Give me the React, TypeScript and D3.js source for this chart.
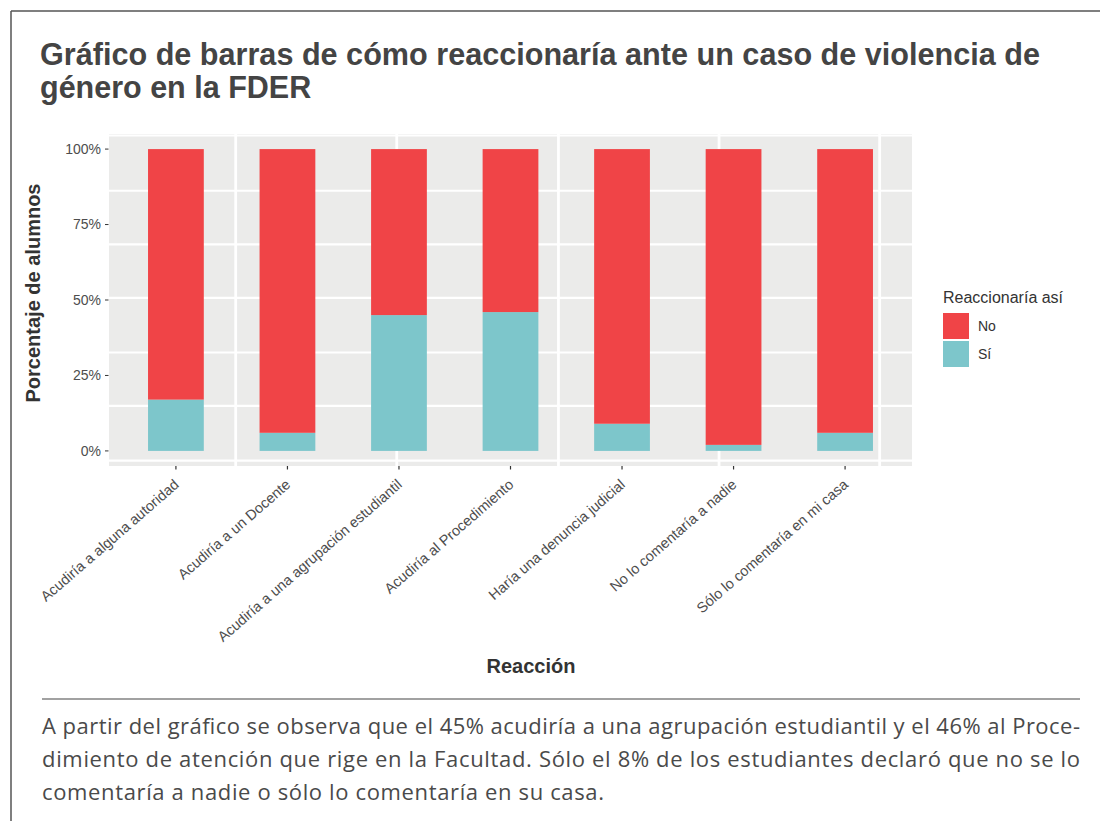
import React from "react";
import * as d3 from "d3";

const categories = [
  "Acudiría a alguna autoridad",
  "Acudiría a un Docente",
  "Acudiría a una agrupación estudiantil",
  "Acudiría al Procedimiento",
  "Haría una denuncia judicial",
  "No lo comentaría a nadie",
  "Sólo lo comentaría en mi casa",
];
const siValues = [0.17, 0.06, 0.45, 0.46, 0.09, 0.02, 0.06];
const noValues = [0.83, 0.94, 0.55, 0.54, 0.91, 0.98, 0.94];
const seriesKeys = ["Sí", "No"];
const legendKeys = ["No", "Sí"];
const yTicks = [0, 0.25, 0.5, 0.75, 1];
// background seams of the panel (in data units)
const ySeams = [1.045, 0.862, 0.684, 0.507, 0.326, 0.149, -0.032];
const xSeamUnits = [0.536, 1.98, 3.43, 4.87, 6.31];

const titleLines = [
  "Gráfico de barras de cómo reaccionaría ante un caso de violencia de",
  "género en la FDER",
];
const noteLines = [
  "A partir del gráfico se observa que el 45% acudiría a una agrupación estudiantil y el 46% al Proce-",
  "dimiento de atención que rige en la Facultad. Sólo el 8% de los estudiantes declaró que no se lo",
  "comentaría a nadie o sólo lo comentaría en su casa.",
];
const noteWidths = [1038, 1038, 562];

const COLORS: Record<string, string> = { No: "#F04447", "Sí": "#7DC6CB" };
const SANS = "'Liberation Sans', Arial, Helvetica, sans-serif";

export default function App() {
  const W = 1100;
  const H = 821;
  const pL = 109, pR = 912, pT = 134, pB = 466;

  const x = d3
    .scaleBand<string>()
    .domain(categories)
    .range([pL, pR])
    .paddingInner(0.5)
    .paddingOuter(0.35);
  const xUnit = d3.scaleLinear().domain([-0.6, 6.6]).range([pL, pR]);
  const y = d3.scaleLinear().domain([-0.05, 1.05]).range([pB, pT]);

  const rows = categories.map((c, i) => ({ cat: c, "Sí": siValues[i], No: noValues[i] }));
  const stacked = d3.stack<any>().keys(seriesKeys)(rows);
  const pct = d3.format(".0%");

  return (
    <svg
      width={W}
      height={H}
      style={{ position: "absolute", left: 0, top: 0, background: "#fff" }}
      fontFamily={SANS}
    >
      {/* frame */}
      <line x1={11} y1={11} x2={W} y2={11} stroke="#555" strokeWidth={1.5} />
      <line x1={11} y1={11} x2={11} y2={H} stroke="#555" strokeWidth={1.5} />

      {/* title */}
      <text x={40} y={65} fontSize={30.5} fontWeight="bold" fill="#444" textLength={1000} lengthAdjust="spacingAndGlyphs">
        {titleLines[0]}
      </text>
      <text x={40} y={98} fontSize={30.5} fontWeight="bold" fill="#444">
        {titleLines[1]}
      </text>

      {/* panel */}
      <rect x={pL} y={pT} width={pR - pL} height={pB - pT} fill="#EBEBEA" />
      {ySeams.map((v, i) => (
        <line key={"hs" + i} x1={pL} x2={pR} y1={y(v)} y2={y(v)} stroke="#fff" strokeWidth={2.2} />
      ))}
      {xSeamUnits.map((u, i) => (
        <line key={"vs" + i} x1={xUnit(u)} x2={xUnit(u)} y1={pT} y2={pB} stroke="#fff" strokeWidth={2.8} />
      ))}

      {/* bars */}
      {stacked.map((s) => (
        <g key={s.key} fill={COLORS[s.key]}>
          {s.map((d, i) => (
            <rect
              key={i}
              x={x(categories[i])}
              width={x.bandwidth()}
              y={y(d[1])}
              height={y(d[0]) - y(d[1])}
            />
          ))}
        </g>
      ))}

      {/* y axis */}
      {yTicks.map((t) => (
        <g key={"yt" + t}>
          <line x1={105} x2={108.5} y1={y(t)} y2={y(t)} stroke="#333" strokeWidth={1} />
          <text x={101} y={y(t)} dy="0.35em" textAnchor="end" fontSize={14} fill="#4D4D4D">
            {pct(t)}
          </text>
        </g>
      ))}
      <text
        transform={`translate(39.5,293) rotate(-90)`}
        textAnchor="middle"
        fontSize={20}
        fontWeight="bold"
        fill="#333"
      >
        Porcentaje de alumnos
      </text>

      {/* x axis */}
      {categories.map((c) => {
        const cx = (x(c) as number) + x.bandwidth() / 2;
        return (
          <g key={"xt" + c}>
            <line x1={cx} x2={cx} y1={pB} y2={pB + 3.5} stroke="#333" strokeWidth={1.2} />
            <text
              transform={`translate(${cx + 4},486) rotate(-41)`}
              textAnchor="end"
              fontSize={14.5}
              fill="#4D4D4D"
            >
              {c}
            </text>
          </g>
        );
      })}
      <text x={531} y={672.5} textAnchor="middle" fontSize={20} fontWeight="bold" fill="#333">
        Reacción
      </text>

      {/* legend */}
      <text x={943} y={303} fontSize={16} fill="#333">
        Reaccionaría así
      </text>
      {legendKeys.map((k, i) => (
        <g key={"lg" + k} transform={`translate(943,${313 + i * 28})`}>
          <rect width={26} height={26} fill={COLORS[k]} />
          <text x={35} y={13} dy="0.35em" fontSize={14} fill="#333">
            {k}
          </text>
        </g>
      ))}

      {/* rule + note */}
      <line x1={42} x2={1080} y1={699} y2={699} stroke="#444" strokeWidth={1.2} />
      {noteLines.map((l, i) => (
        <text
          key={"nl" + i}
          x={42}
          y={734 + i * 33}
          fontSize={22}
          fill="#4a4a4a"
          fontFamily="'Open Sans', sans-serif"
          textLength={noteWidths[i]}
          lengthAdjust="spacing"
        >
          {l}
        </text>
      ))}
    </svg>
  );
}
